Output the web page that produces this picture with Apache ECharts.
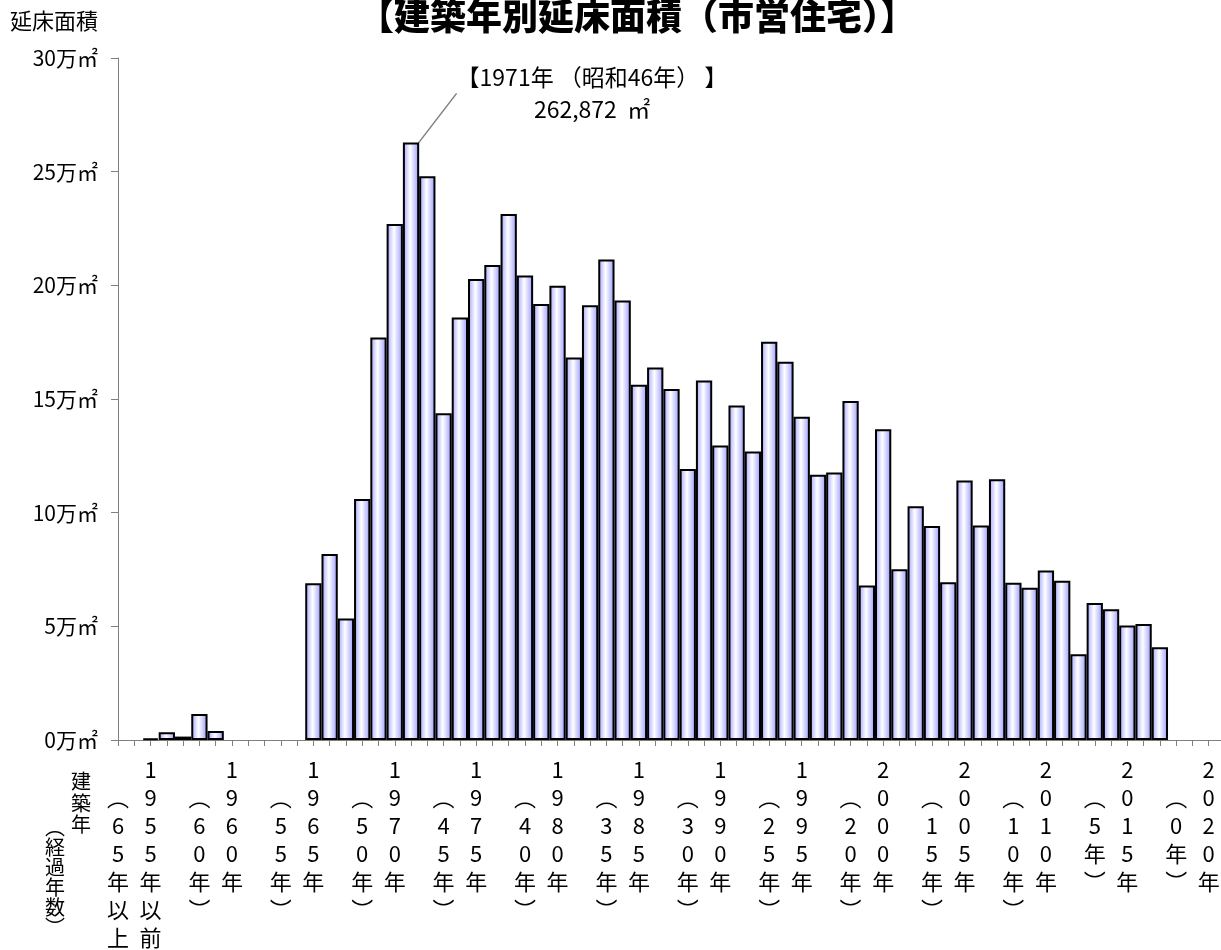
<!DOCTYPE html>
<html>
<head>
<meta charset="utf-8">
<script src="https://cdn.jsdelivr.net/npm/echarts@6/dist/echarts.min.js"></script>
<style>
  html, body { margin: 0; padding: 0; background: #ffffff; }
  #chart { width: 1221px; height: 950px; }
</style>
</head>
<body>
<div id="chart"></div>
<script>
// 建築年（1955年は「1955年以前」の合計）
const buildYears = [
  1955, 1956, 1957, 1958, 1959, 1960, 1961, 1962, 1963, 1964,
  1965, 1966, 1967, 1968, 1969, 1970, 1971, 1972, 1973, 1974,
  1975, 1976, 1977, 1978, 1979, 1980, 1981, 1982, 1983, 1984,
  1985, 1986, 1987, 1988, 1989, 1990, 1991, 1992, 1993, 1994,
  1995, 1996, 1997, 1998, 1999, 2000, 2001, 2002, 2003, 2004,
  2005, 2006, 2007, 2008, 2009, 2010, 2011, 2012, 2013, 2014,
  2015, 2016, 2017
];
// 延床面積（㎡）、null は該当なし
const floorArea = [
  700, 3400, 1500, 11400, 4000, null, null, null, null, null,
  68900, 81800, 53400, 106000, 177100, 227000, 262872, 248000, 143700, 185800,
  202800, 208900, 231400, 204300, 191800, 199800, 168300, 191200, 211400, 193300,
  156300, 163900, 154400, 119200, 158100, 129600, 147100, 126900, 175200, 166400,
  142200, 116700, 117700, 149100, 68000, 136700, 75100, 102800, 94100, 69400,
  114200, 94400, 114700, 69200, 67000, 74600, 70100, 37700, 60300, 57500,
  50400, 51000, 40800
];
// 目盛ラベルを付ける建築年
const tickYears = [1955, 1960, 1965, 1970, 1975, 1980, 1985, 1990, 1995, 2000, 2005, 2010, 2015, 2020];
// 縦軸の目盛（㎡）
const areaTicks = [0, 50000, 100000, 150000, 200000, 250000, 300000];
// 経過年数の基準年
const baseYear = 2020;
// 横軸の範囲（年）
const axisFirstYear = 1953;
const axisLastYear = 2021;

const FONT = '"Noto Sans CJK JP", "Noto Sans CJK SC", sans-serif';

const categories = [];
for (let y = axisFirstYear; y <= axisLastYear; y++) categories.push(String(y));

const valueByYear = {};
buildYears.forEach((y, i) => { valueByYear[y] = floorArea[i]; });

const peakValue = Math.max(...floorArea.filter(v => v != null));
const peakYear = buildYears[floorArea.indexOf(peakValue)];

const seriesData = categories.map(c => {
  const y = Number(c);
  const v = valueByYear[y] === undefined ? null : valueByYear[y];
  if (y === peakYear) {
    return {
      value: v,
      label: {
        show: true,
        fontFamily: FONT,
        fontSize: 23,
        lineHeight: 32,
        color: '#000',
        align: 'center',
        formatter: p => '【' + y + '年 （昭和' + (y - 1925) + '年） 】\n' + p.value.toLocaleString('en-US') + '  ㎡'
      },
      labelLine: { show: true, lineStyle: { color: '#808080', width: 1.5 } }
    };
  }
  return v;
});

// 縦書きの2列ラベル：左列が経過年数、右列が建築年
function tickLabel(value) {
  const y = Number(value) + 1;
  const first = y === tickYears[0];
  const age = baseYear - y;
  const yearCol = (String(y) + '年' + (first ? '以前' : '')).split('');
  const ageCol = ['︵'].concat(String(age).split(''), ['年'], first ? ['以', '上'] : [], ['︶']);
  const rows = Math.max(yearCol.length, ageCol.length + 1);
  const lines = [];
  for (let r = 0; r < rows; r++) {
    const a = r === 0 ? '\u3000' : (ageCol[r - 1] || '\u3000');
    const b = yearCol[r] || '\u3000';
    lines.push('{a|' + a + '}{b|' + b + '}');
  }
  return lines.join('\n');
}

const chart = echarts.init(document.getElementById('chart'), null, { renderer: 'canvas' });
const plotLeft = 118, plotTop = 58, plotBottom = 740, plotWidth = 1107;
const band = plotWidth / (categories.length - 1);
const colStyle = { width: band * 2, align: 'center', lineHeight: 28, fontSize: 22, fontFamily: FONT, color: '#000' };

chart.setOption({
  animation: false,
  backgroundColor: '#ffffff',
  textStyle: { fontFamily: FONT },
  grid: {
    left: plotLeft, top: plotTop, width: plotWidth, height: plotBottom - plotTop,
    containLabel: false, outerBoundsMode: 'none'
  },
  xAxis: {
    type: 'category',
    data: categories,
    boundaryGap: false,
    axisLine: { show: true, lineStyle: { color: '#808080', width: 1 } },
    axisTick: { show: true, interval: 0, length: 6, lineStyle: { color: '#808080', width: 1 } },
    splitLine: { show: false },
    axisLabel: {
      interval: (index, value) => tickYears.indexOf(Number(value) + 1) >= 0,
      formatter: tickLabel,
      margin: 16,
      color: '#000',
      fontFamily: FONT,
      fontSize: 22,
      lineHeight: 28,
      verticalAlign: 'top',
      rich: { a: colStyle, b: colStyle }
    }
  },
  yAxis: {
    type: 'value',
    min: areaTicks[0],
    max: areaTicks[areaTicks.length - 1],
    interval: areaTicks[1] - areaTicks[0],
    axisLine: { show: true, lineStyle: { color: '#808080', width: 1 } },
    axisTick: { show: true, length: 7, lineStyle: { color: '#808080', width: 1 } },
    splitLine: { show: false },
    axisLabel: {
      formatter: v => (v / 10000) + '万㎡',
      color: '#000',
      fontFamily: FONT,
      fontSize: 21,
      margin: 20
    }
  },
  series: [{
    type: 'bar',
    data: seriesData,
    barWidth: '100%',
    itemStyle: {
      color: {
        type: 'linear', x: 0, y: 0, x2: 1, y2: 0,
        colorStops: [
          { offset: 0, color: '#a0a0ff' },
          { offset: 0.45, color: '#ffffff' },
          { offset: 1, color: '#9898ff' }
        ]
      },
      borderColor: '#000000',
      borderWidth: 2
    },
    labelLayout: function (params) {
      if (params.dataIndex !== categories.indexOf(String(peakYear))) return {};
      const r = params.rect;
      const cx = r.x + r.width / 2;
      const top = r.y;
      return {
        x: cx + 181,
        y: top - 49,
        align: 'center',
        verticalAlign: 'middle',
        labelLinePoints: [[cx, top], [cx + 80, top - 41], [cx + 80, top - 41]]
      };
    }
  }],
  graphic: [
    {
      type: 'text', x: 637, y: -2,
      style: { text: '【建築年別延床面積（市営住宅）】', font: '900 36px ' + FONT, fill: '#000', textAlign: 'center', textVerticalAlign: 'top' }
    },
    {
      type: 'text', x: 10, y: 10,
      style: { text: '延床面積', font: '22px ' + FONT, fill: '#000', textAlign: 'left', textVerticalAlign: 'top' }
    },
    {
      type: 'text', x: 81, y: 771,
      style: { text: '建\n築\n年', font: '20px ' + FONT, lineHeight: 21.5, fill: '#000', textAlign: 'center', textVerticalAlign: 'top' }
    },
    {
      type: 'text', x: 55, y: 817,
      style: { text: '︵\n経\n過\n年\n数\n︶', font: '20px ' + FONT, lineHeight: 20, fill: '#000', textAlign: 'center', textVerticalAlign: 'top' }
    }
  ]
});
</script>
</body>
</html>
